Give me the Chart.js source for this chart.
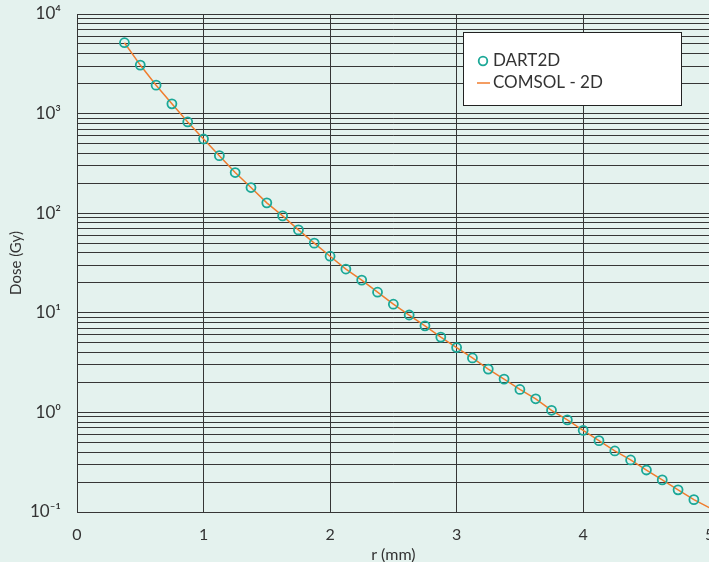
<!DOCTYPE html>
<html>
<head>
<meta charset="utf-8">
<script src="https://cdn.jsdelivr.net/npm/chart.js@4"></script>
<style>
  html, body { margin: 0; padding: 0; background: #e4f2ee; overflow: hidden; }
  #wrap { width: 716px; height: 564px; }
</style>
</head>
<body>
<div id="wrap"><canvas id="doseChart" width="716" height="564"></canvas></div>
<script>
// r in mm, dose in Gy
const dartR = [0.375, 0.5, 0.625, 0.75, 0.875, 1.0, 1.125, 1.25, 1.375, 1.5, 1.625, 1.75, 1.875,
  2.0, 2.125, 2.25, 2.375, 2.5, 2.625, 2.75, 2.875, 3.0, 3.125, 3.25, 3.375, 3.5, 3.625, 3.75,
  3.875, 4.0, 4.125, 4.25, 4.375, 4.5, 4.625, 4.75, 4.875];
const dartDose = [5150, 3070, 1930, 1253, 824, 556, 378, 256, 181, 127, 94, 68, 50,
  37, 27.5, 21.3, 16.1, 12.2, 9.5, 7.4, 5.7, 4.48, 3.52, 2.72, 2.16, 1.70, 1.37, 1.05,
  0.84, 0.66, 0.52, 0.41, 0.333, 0.264, 0.21, 0.167, 0.133];
const comsolR = [0.375, 0.5, 0.625, 0.75, 0.875, 1.0, 1.125, 1.25, 1.375, 1.5, 1.625, 1.75, 1.875,
  2.0, 2.125, 2.25, 2.375, 2.5, 2.625, 2.75, 2.875, 3.0, 3.125, 3.25, 3.375, 3.5, 3.625, 3.75,
  3.875, 4.0, 4.125, 4.25, 4.375, 4.5, 4.625, 4.75, 4.875, 5.0];
const comsolDose = [5150, 3070, 1930, 1253, 824, 556, 378, 256, 181, 127, 94, 68, 50,
  37, 27.5, 21.3, 16.1, 12.2, 9.5, 7.4, 5.7, 4.48, 3.52, 2.72, 2.16, 1.70, 1.37, 1.05,
  0.84, 0.66, 0.52, 0.41, 0.333, 0.264, 0.21, 0.167, 0.133, 0.11];
const xTicks = [0, 1, 2, 3, 4, 5];
const yExps = [-1, 0, 1, 2, 3, 4];
const supers = { '-': '\u207B', '0': '\u2070', '1': '\u00B9', '2': '\u00B2', '3': '\u00B3', '4': '\u2074' };

const bg = '#e4f2ee';
const gridCol = '#363636';
const textCol = '#333333';
const teal = '#1ba897';
const orange = '#f07d2e';
const font = "Lato, 'Open Sans', sans-serif";

const toPts = (xs, ys) => xs.map((x, i) => ({ x: x, y: ys[i] }));

const bgPlugin = {
  id: 'bg',
  beforeDraw(chart) {
    const c = chart.ctx;
    c.save();
    c.fillStyle = bg;
    c.fillRect(0, 0, chart.width, chart.height);
    c.restore();
  }
};

const boxLegend = {
  id: 'boxLegend',
  afterDraw(chart) {
    const c = chart.ctx;
    c.save();
    c.fillStyle = '#ffffff';
    c.fillRect(463, 32, 218, 73);
    c.strokeStyle = '#222';
    c.lineWidth = 1;
    c.strokeRect(463.5, 32.5, 218, 73);
    // DART2D marker
    c.strokeStyle = teal;
    c.lineWidth = 1.8;
    c.beginPath();
    c.arc(483, 61, 4.3, 0, Math.PI * 2);
    c.stroke();
    // COMSOL line
    c.strokeStyle = orange;
    c.lineWidth = 1.5;
    c.beginPath();
    c.moveTo(477, 83);
    c.lineTo(490, 83);
    c.stroke();
    c.fillStyle = textCol;
    c.font = '17px ' + font;
    c.textBaseline = 'middle';
    c.fillText(chart.data.datasets[0].label, 493, 61);
    c.fillText(chart.data.datasets[1].label, 493, 83);
    c.restore();
  }
};

new Chart(document.getElementById('doseChart'), {
  type: 'scatter',
  data: {
    datasets: [{
      label: 'DART2D',
      data: toPts(dartR, dartDose),
      showLine: false,
      pointStyle: 'circle',
      pointRadius: 4.5,
      pointBorderWidth: 1.8,
      borderColor: teal,
      backgroundColor: 'rgba(0,0,0,0)',
      order: 0
    }, {
      label: 'COMSOL - 2D',
      data: toPts(comsolR, comsolDose),
      showLine: true,
      pointRadius: 0,
      borderColor: orange,
      borderWidth: 1.5,
      order: 1
    }]
  },
  options: {
    responsive: false,
    animation: false,
    layout: { padding: { top: 14, left: 0, right: 0, bottom: 0 } },
    plugins: {
      legend: { display: false },
      tooltip: { enabled: false }
    },
    scales: {
      x: {
        type: 'linear',
        min: 0,
        max: 5,
        afterBuildTicks(scale) { scale.ticks = xTicks.map(v => ({ value: v })); },
        afterFit(scale) {
          scale.height = 52;
          scale.paddingLeft = 0;
          scale.paddingRight = 0;
        },
        grid: { color: gridCol, lineWidth: 1, drawTicks: false },
        border: { color: gridCol, width: 1 },
        ticks: { color: textCol, font: { family: font, size: 16 }, padding: 13 },
        title: { display: true, text: 'r (mm)', color: textCol, font: { family: font, size: 16 }, padding: { top: 0, bottom: 0 } }
      },
      y: {
        type: 'logarithmic',
        min: 0.1,
        max: 10000,
        afterBuildTicks(scale) {
          const t = [];
          for (let e = -1; e < 4; e++) {
            for (let s = 1; s <= 9; s++) t.push({ value: Math.round(s * Math.pow(10, e) * 1000) / 1000 });
          }
          t.push({ value: 10000 });
          scale.ticks = t;
        },
        afterFit(scale) {
          scale.width = 77;
          scale.paddingTop = 0;
          scale.paddingBottom = 0;
        },
        grid: { color: gridCol, lineWidth: 1, drawTicks: false },
        border: { color: gridCol, width: 1 },
        ticks: {
          autoSkip: false,
          color: textCol,
          font: { family: font, size: 17 },
          padding: 16,
          callback(v) {
            const e = Math.log10(v);
            if (Math.abs(e - Math.round(e)) > 1e-6) return '';
            const k = Math.round(e);
            if (!yExps.includes(k)) return '';
            return '10' + String(k).split('').map(ch => supers[ch]).join('');
          }
        },
        title: { display: true, text: 'Dose (Gy)', color: textCol, font: { family: font, size: 15 }, padding: { top: 7, bottom: 0 } }
      }
    }
  },
  plugins: [bgPlugin, boxLegend]
});
</script>
</body>
</html>
